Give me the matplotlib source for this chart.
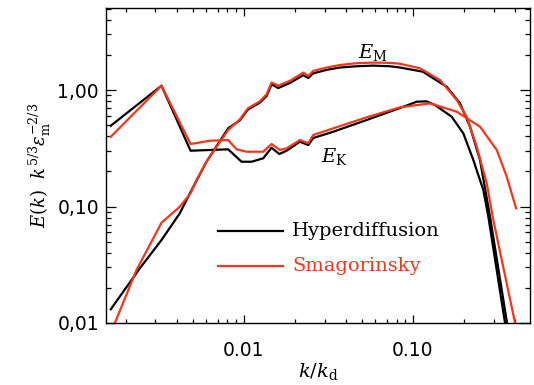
import matplotlib
matplotlib.use("Agg")
import matplotlib.pyplot as plt
from matplotlib.ticker import FixedLocator, FixedFormatter, NullFormatter

plt.rcParams['mathtext.fontset'] = 'dejavuserif'

# Hyperdiffusion (black)
kK_h = [0.001633, 0.003258, 0.00484, 0.008074, 0.009691, 0.01111, 0.01301, 0.01458,
        0.0162, 0.01789, 0.02145, 0.02402, 0.02572, 0.03377, 0.05321, 0.08378, 0.1051,
        0.1200, 0.135, 0.1694, 0.1984, 0.2274, 0.2606, 0.279, 0.3502]
EK_h = [0.4938, 1.089, 0.3013, 0.3097, 0.2424, 0.2424, 0.2593, 0.3197,
        0.2823, 0.3013, 0.3599, 0.3372, 0.3873, 0.4385, 0.5528, 0.7006, 0.7936,
        0.80, 0.7436, 0.59, 0.4249, 0.2507, 0.1385, 0.0818, 0.01]

kM_h = [0.001633, 0.002425, 0.003258, 0.004178, 0.004794, 0.00601, 0.008074, 0.00947,
        0.01056, 0.01243, 0.01363, 0.01458, 0.01596, 0.01872, 0.02243, 0.02402, 0.02572,
        0.03086, 0.03698, 0.04644, 0.05824, 0.0731, 0.0838, 0.1146, 0.1318, 0.1583,
        0.1897, 0.2174, 0.2491, 0.2855, 0.3599]
EM_h = [0.01311, 0.02947, 0.05159, 0.0874, 0.1298, 0.2424, 0.4691, 0.55,
        0.68, 0.78, 0.89, 1.12, 1.04, 1.15, 1.34, 1.27, 1.39,
        1.49, 1.56, 1.60, 1.62, 1.60, 1.56, 1.436, 1.26, 1.067,
        0.7686, 0.4842, 0.2507, 0.08175, 0.01]

# Smagorinsky (red)
kK_s = [0.001633, 0.003258, 0.00484, 0.006295, 0.008074, 0.009053, 0.01037, 0.01301,
        0.01458, 0.01633, 0.01789, 0.02145, 0.02402, 0.02572, 0.03377, 0.05321, 0.08378,
        0.126, 0.1814, 0.2491, 0.3128, 0.3584, 0.407]
EK_s = [0.3973, 1.089, 0.3439, 0.3671, 0.3722, 0.3097, 0.2954, 0.2954,
        0.3439, 0.3055, 0.3159, 0.3722, 0.3486, 0.411, 0.4691, 0.5831, 0.7105,
        0.7686, 0.6515, 0.4842, 0.3055, 0.1803, 0.0965]

kM_s = [0.001633, 0.002317, 0.003258, 0.004178, 0.00484, 0.005248, 0.00601, 0.008074,
        0.00947, 0.01056, 0.01243, 0.01363, 0.01458, 0.01596, 0.01872, 0.02243, 0.02402,
        0.02572, 0.03086, 0.03698, 0.04644, 0.05824, 0.0731, 0.0838, 0.11, 0.1445,
        0.1814, 0.2078, 0.2382, 0.273, 0.2986, 0.4015]
EM_s = [0.0082, 0.0285, 0.0726, 0.0996, 0.1298, 0.1689, 0.2424, 0.4535,
        0.56, 0.6965, 0.80, 0.92, 1.16, 1.09, 1.20, 1.41, 1.32,
        1.46, 1.56, 1.64, 1.70, 1.72, 1.71, 1.68, 1.536, 1.218,
        0.821, 0.59, 0.3261, 0.1581, 0.07656, 0.01]

xticks = [0.01, 0.1]
xticklabels = ['0.01', '0.10']
yticks = [0.01, 0.1, 1.0]
yticklabels = ['0,01', '0,10', '1,00']

RED = '#f7351a'
fig = plt.figure(figsize=(5.34, 3.85), dpi=100)
ax = fig.add_axes([106/534, 1-323/385, (530-106)/534, (323-8)/385])
ax.set_xscale('log')
ax.set_yscale('log')
lw = 1.6
ax.plot(kK_h, EK_h, color='black', lw=lw)
ax.plot(kM_h, EM_h, color='black', lw=lw)
ax.plot(kK_s, EK_s, color=RED, lw=lw)
ax.plot(kM_s, EM_s, color=RED, lw=lw)

ax.set_xlim(0.00153, 0.492)
ax.set_ylim(0.01, 5.06)

ax.xaxis.set_major_locator(FixedLocator(xticks))
ax.xaxis.set_major_formatter(FixedFormatter(xticklabels))
ax.yaxis.set_major_locator(FixedLocator(yticks))
ax.yaxis.set_major_formatter(FixedFormatter(yticklabels))
ax.xaxis.set_minor_formatter(NullFormatter())
ax.yaxis.set_minor_formatter(NullFormatter())
ax.tick_params(which='both', direction='in', top=True, right=True, width=0.9, labelsize=13.5)
ax.tick_params(axis='x', which='major', length=6, pad=13)
ax.tick_params(axis='x', which='minor', length=3)
ax.tick_params(axis='y', which='major', length=7, pad=5)
ax.tick_params(axis='y', which='minor', length=3.5)
for s in ax.spines.values():
    s.set_linewidth(1.0)

ax.set_xlabel(r'$k/k_{\rm d}$', fontsize=14, labelpad=1)
ax.set_ylabel(r'$E(k)\ \ k^{5/3}\epsilon_{\rm m}^{-2/3}$', fontsize=13, labelpad=3)

ax.text(0.0580, 2.12, r'$E_{\rm M}$', fontsize=14, ha='center', va='center')
ax.text(0.0345, 0.271, r'$E_{\rm K}$', fontsize=14, ha='center', va='center')

# legend drawn manually in axes fraction
lx0, lx1 = (218-106)/424, (283-106)/424
ly_black = (323-230.7)/315
ly_red = (323-265.7)/315
ax.plot([lx0, lx1], [ly_black, ly_black], color='black', lw=lw, transform=ax.transAxes)
ax.plot([lx0, lx1], [ly_red, ly_red], color=RED, lw=lw, transform=ax.transAxes)
tx = (292-106)/424
ax.text(tx, ly_black, 'Hyperdiffusion', transform=ax.transAxes, fontsize=14,
        family='DejaVu Serif', va='center', ha='left', color='black')
ax.text(tx, ly_red, 'Smagorinsky', transform=ax.transAxes, fontsize=14,
        family='DejaVu Serif', va='center', ha='left', color=RED)

fig.savefig('out.png', dpi=100)
